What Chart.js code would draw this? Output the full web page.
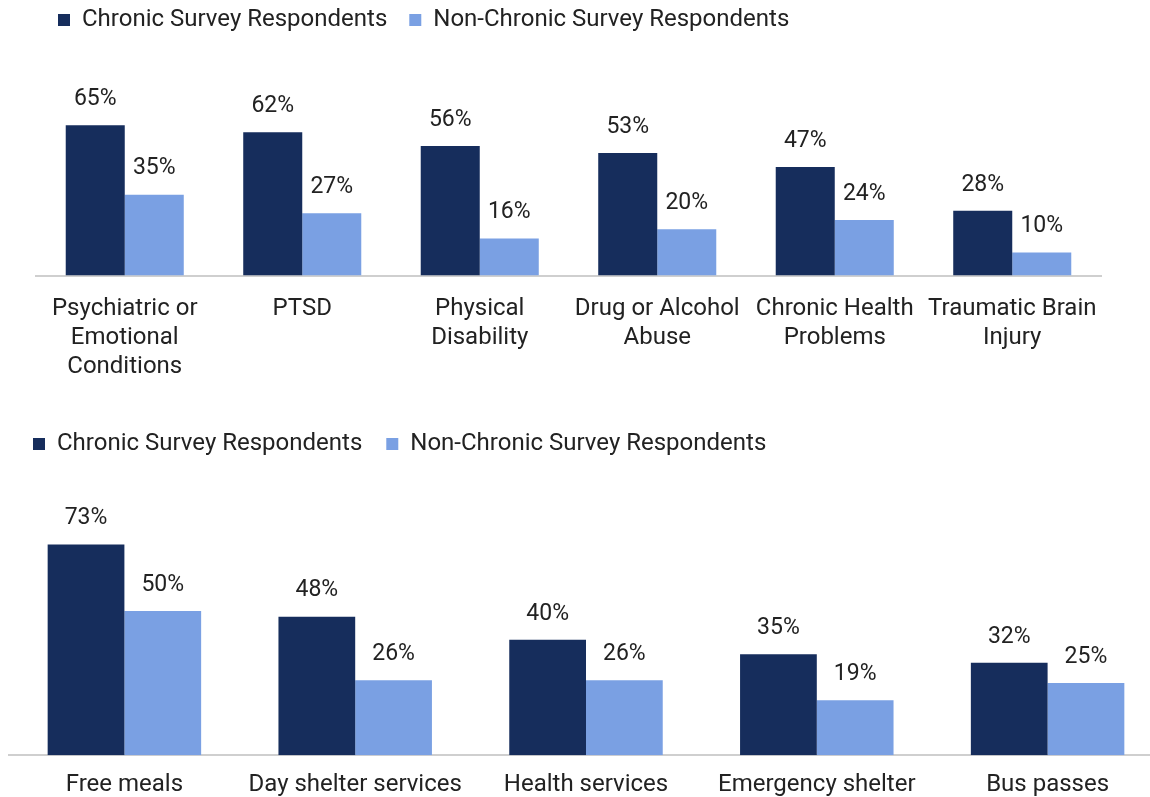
<!DOCTYPE html>
<html>
<head>
<meta charset="utf-8">
<script src="https://cdn.jsdelivr.net/npm/chart.js@4/dist/chart.umd.min.js"></script>
<style>
  html, body { margin: 0; padding: 0; background: #fff; overflow: hidden; }
  body { width: 1150px; height: 797px; position: relative; }
  .box { position: absolute; left: 0; }
  #wrap1 { top: -14px; width: 1150px; height: 406px; }
  #wrap2 { top: 408px; width: 1170px; height: 398px; }
</style>
</head>
<body>
<div class="box" id="wrap1"><canvas id="conditions"></canvas></div>
<div class="box" id="wrap2"><canvas id="services"></canvas></div>
<script>
// top chart - health conditions
const conditionLabels = [
  ["Psychiatric or", "Emotional", "Conditions"],
  "PTSD",
  ["Physical", "Disability"],
  ["Drug or Alcohol", "Abuse"],
  ["Chronic Health", "Problems"],
  ["Traumatic Brain", "Injury"]
];
const conditionChronic = [65, 62, 56, 53, 47, 28];
const conditionNonChronic = [35, 27, 16, 20, 24, 10];

// bottom chart - services used
const serviceLabels = ["Free meals", "Day shelter services", "Health services", "Emergency shelter", "Bus passes"];
const serviceChronic = [73, 48, 40, 35, 32];
const serviceNonChronic = [50, 26, 26, 19, 25];

const seriesNames = ["Chronic Survey Respondents", "Non-Chronic Survey Respondents"];
const navy = "#162d5c";
const lightBlue = "#7aa0e3";

Chart.defaults.font.family = "Roboto, 'Noto Sans', sans-serif";
Chart.defaults.color = "#222222";

// writes the % value over every bar
const valueLabels = {
  id: "valueLabels",
  afterDatasetsDraw(chart) {
    const ctx = chart.ctx;
    ctx.save();
    ctx.font = "23px Roboto, 'Noto Sans', sans-serif";
    ctx.fillStyle = "#222222";
    ctx.textAlign = "center";
    ctx.textBaseline = "middle";
    chart.data.datasets.forEach((ds, i) => {
      chart.getDatasetMeta(i).data.forEach((bar, j) => {
        ctx.fillText(ds.data[j] + "%", bar.x, bar.y - 26);
      });
    });
    ctx.restore();
  }
};

function makeChart(id, labels, chronic, nonChronic, opts) {
  return new Chart(document.getElementById(id), {
    type: "bar",
    plugins: [valueLabels],
    data: {
      labels: labels,
      datasets: [
        { label: seriesNames[0], data: chronic, backgroundColor: navy },
        { label: seriesNames[1], data: nonChronic, backgroundColor: lightBlue }
      ]
    },
    options: {
      responsive: true,
      maintainAspectRatio: false,
      animation: false,
      layout: { padding: { left: opts.left, right: opts.right, top: 0, bottom: 0 } },
      datasets: { bar: { categoryPercentage: 0.665, barPercentage: 1 } },
      plugins: {
        tooltip: { enabled: false },
        legend: {
          align: "start",
          labels: {
            boxWidth: 12,
            boxHeight: 12,
            padding: opts.legendPad,
            font: { size: 24 }
          }
        }
      },
      scales: {
        x: {
          grid: { display: false },
          border: { display: true, color: "#cfcfcf", width: 2 },
          ticks: {
            padding: opts.tickPad,
            maxRotation: 0,
            autoSkip: false,
            font: { size: 24, lineHeight: 1.2 }
          }
        },
        y: { display: false, min: 0, max: opts.yMax }
      }
    }
  });
}

makeChart("conditions", conditionLabels, conditionChronic, conditionNonChronic,
  { left: 36, right: 49, yMax: 101, tickPad: 11, legendPad: 22 });
makeChart("services", serviceLabels, serviceChronic, serviceNonChronic,
  { left: 9, right: 7, yMax: 100.2, tickPad: 7, legendPad: 24 });
</script>
</body>
</html>
